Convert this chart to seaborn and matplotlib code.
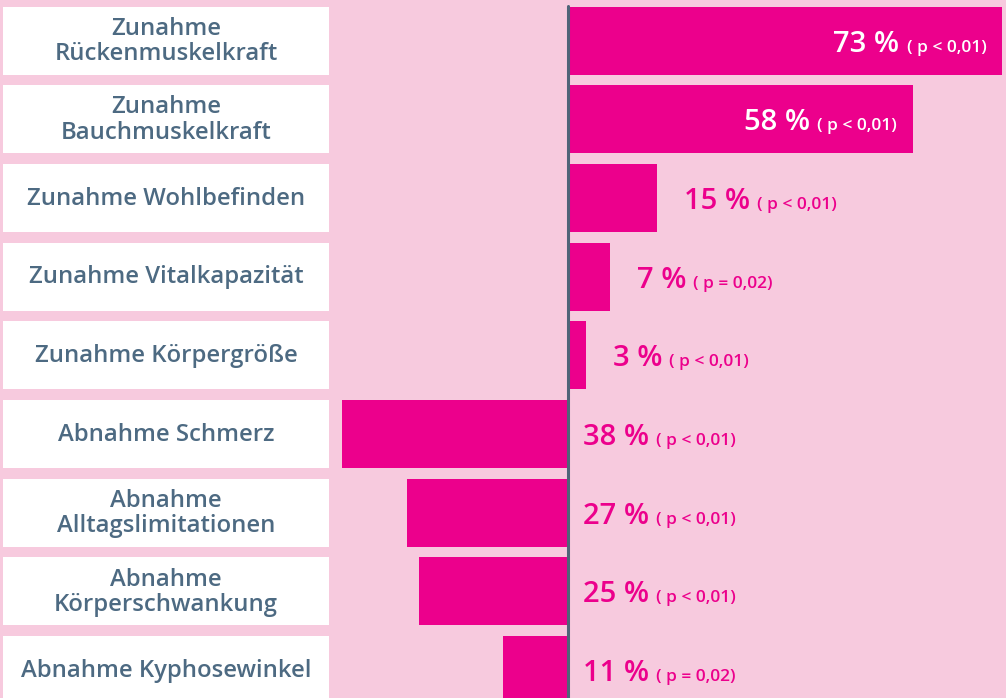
import numpy as np
import pandas as pd
import seaborn as sns
import matplotlib.pyplot as plt
from matplotlib.patches import Rectangle
import matplotlib.transforms as mtransforms

# data
labels = ['Zunahme\nRückenmuskelkraft', 'Zunahme\nBauchmuskelkraft', 'Zunahme Wohlbefinden',
          'Zunahme Vitalkapazität', 'Zunahme Körpergröße', 'Abnahme Schmerz',
          'Abnahme\nAlltagslimitationen', 'Abnahme\nKörperschwankung', 'Abnahme Kyphosewinkel']
change = [73, 58, 15, 7, 3, -38, -27, -25, -11]
pct_text = ['73 %', '58 %', '15 %', '7 %', '3 %', '38 %', '27 %', '25 %', '11 %']
p_text = ['( p < 0,01)', '( p < 0,01)', '( p < 0,01)', '( p = 0,02)', '( p < 0,01)',
          '( p < 0,01)', '( p < 0,01)', '( p < 0,01)', '( p = 0,02)']
inside = [True, True, False, False, False, False, False, False, False]

bg = '#F7CADE'
magenta = '#EC008C'
slate = '#4D6A82'
axis_col = '#4F6478'

df = pd.DataFrame({'label': labels, 'change': change})

sns.set_style('white')
plt.rcParams['font.family'] = ['Open Sans', 'DejaVu Sans']

fig = plt.figure(figsize=(10.06, 6.98), dpi=100, facecolor=bg)
ax = fig.add_axes([0, 0, 1, 1])
ax.set_facecolor(bg)

sns.barplot(data=df, x='change', y='label', orient='h', color=magenta, saturation=1,
            width=0.864, errorbar=None, linewidth=0, ax=ax)

ax.set_xlim(-95.46, 73.6)
ax.set_ylim(8.354, -0.515)
ax.axvline(0, ymin=0, ymax=0.991, color=axis_col, lw=2.2, zorder=5)
for s in ax.spines.values():
    s.set_visible(False)
ax.set_xticks([])
ax.set_yticks([])
ax.set_xlabel('')
ax.set_ylabel('')

# white label panels on the left
trans = mtransforms.blended_transform_factory(ax.transAxes, ax.transData)
for i, lab in enumerate(labels):
    ax.add_patch(Rectangle((3 / 1006, i - 0.432), 326 / 1006, 0.864, transform=trans,
                           facecolor='white', edgecolor='none', zorder=3))
    ax.text(166 / 1006, i + 0.01, lab, transform=trans, ha='center', va='center',
            multialignment='center', fontsize=17.2, fontweight='semibold',
            color=slate, linespacing=1.08, zorder=4)

fig.canvas.draw()
r = fig.canvas.get_renderer()

for i, v in enumerate(change):
    if inside[i]:
        small = ax.annotate(p_text[i], xy=(v, i), xytext=(-16, -11), textcoords='offset pixels',
                            ha='right', va='baseline', fontsize=12.5, fontweight='semibold',
                            color='white', zorder=6)
        w = small.get_window_extent(r).width
        ax.annotate(pct_text[i], xy=(v, i), xytext=(-16 - w - 7, -11), textcoords='offset pixels',
                    ha='right', va='baseline', fontsize=21, fontweight='semibold',
                    color='white', zorder=6)
    else:
        x0 = max(v, 0)
        pad = 27 if v > 0 else 15
        big = ax.annotate(pct_text[i], xy=(x0, i), xytext=(pad, -11), textcoords='offset pixels',
                          ha='left', va='baseline', fontsize=21, fontweight='semibold',
                          color=magenta, zorder=6)
        w = big.get_window_extent(r).width
        ax.annotate(p_text[i], xy=(x0, i), xytext=(pad + w + 7, -11), textcoords='offset pixels',
                    ha='left', va='baseline', fontsize=12.5, fontweight='semibold',
                    color=magenta, zorder=6)

fig.savefig('out.png', dpi=100, facecolor=bg)
